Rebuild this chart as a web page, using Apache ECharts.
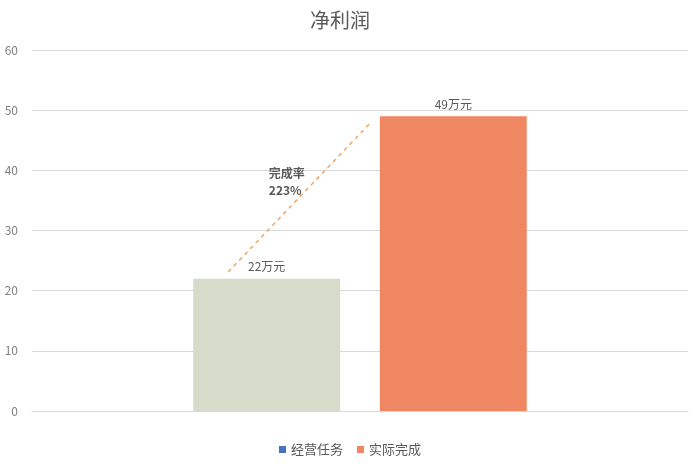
<!DOCTYPE html>
<html>
<head>
<meta charset="utf-8">
<script src="https://cdn.jsdelivr.net/npm/echarts@6/dist/echarts.min.js"></script>
<style>
  html, body { margin: 0; padding: 0; background: #fff; }
  #main { width: 700px; height: 467px; }
</style>
</head>
<body>
<div id="main"></div>
<script>
var categories = ['净利润']
var seriesNames = ['经营任务', '实际完成']
var taskValues = [22]
var actualValues = [49]
var rateText = '完成率\n223%'
var yTicks = { min: 0, max: 60, interval: 10 }
// dashed guide line, [x fraction of plot, y value]
var guideLine = [[0.299, 23.1], [0.515, 47.8]]

var chart = echarts.init(document.getElementById('main'))
var font = 'Noto Sans CJK SC'

var option = {
  animation: false,
  textStyle: { fontFamily: font },
  title: {
    text: '净利润',
    left: 305,
    top: 5,
    textStyle: { fontSize: 20, fontWeight: 'normal', color: '#595959', fontFamily: font }
  },
  legend: {
    bottom: 6,
    itemWidth: 7,
    itemHeight: 7,
    itemGap: 14,
    icon: 'rect',
    textStyle: { color: '#595959', fontSize: 13 },
    data: [
      { name: seriesNames[0], itemStyle: { color: '#4472C4' } },
      { name: seriesNames[1], itemStyle: { color: '#F08763' } }
    ]
  },
  grid: { left: 32, right: 12, top: 50, bottom: 56 },
  xAxis: [
    {
      type: 'category',
      data: categories,
      axisLine: { show: true, lineStyle: { color: '#d9d9d9' } },
      axisTick: { show: false },
      axisLabel: { show: false }
    },
    { type: 'value', min: 0, max: 1, show: false }
  ],
  yAxis: {
    type: 'value',
    min: yTicks.min,
    max: yTicks.max,
    interval: yTicks.interval,
    axisLine: { show: false },
    axisTick: { show: false },
    axisLabel: { color: '#7f7f7f', fontSize: 12, margin: 14 },
    splitLine: { lineStyle: { color: '#d9d9d9' } }
  },
  series: [
    {
      name: seriesNames[0],
      type: 'bar',
      barWidth: '22.4%',
      barGap: '27%',
      data: taskValues,
      itemStyle: { color: '#D7DBC9' },
      label: { show: true, position: 'top', formatter: '{c}万元', color: '#595959', fontSize: 12, distance: 6 }
    },
    {
      name: seriesNames[1],
      type: 'bar',
      barWidth: '22.4%',
      data: actualValues,
      itemStyle: { color: '#F08763' },
      label: { show: true, position: 'top', formatter: '{c}万元', color: '#595959', fontSize: 12, distance: 6 }
    },
    {
      name: 'guide',
      type: 'line',
      xAxisIndex: 1,
      data: guideLine,
      symbol: 'none',
      silent: true,
      lineStyle: { color: '#F4A460', width: 1.5, type: [4, 4] },
      z: 5
    }
  ]
}
chart.setOption(option)

// rate annotation placed in data space
var p = chart.convertToPixel({ xAxisIndex: 1, yAxisIndex: 0 }, [0.361, 40.9])
chart.setOption({
  graphic: [{
    type: 'text',
    x: p[0],
    y: p[1],
    style: {
      text: rateText,
      fill: '#595959',
      font: 'bold 12px "Noto Sans CJK SC"',
      lineHeight: 17
    }
  }]
})
</script>
</body>
</html>
